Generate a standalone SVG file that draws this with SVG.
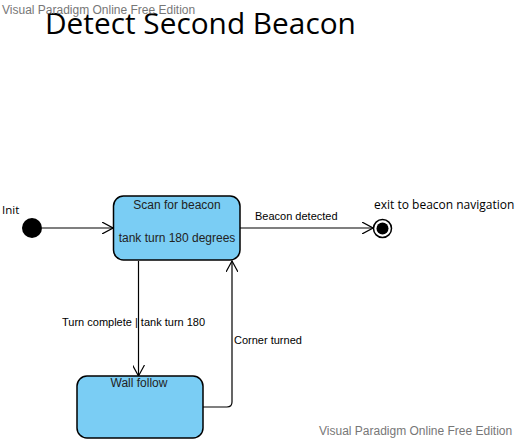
<svg xmlns="http://www.w3.org/2000/svg" width="517" height="440" viewBox="0 0 517 440">
<defs>
<style>
.state{fill:#7acdf4;stroke:#000;stroke-width:1.5}
.lbl{font-family:"Liberation Sans",Arial,sans-serif;font-size:11px;fill:#000}
.st{font-family:"Liberation Sans",Arial,sans-serif;font-size:12px;fill:#222;text-anchor:middle}
.os{font-family:"Open Sans","Noto Sans",sans-serif;fill:#000}
.wm{font-family:"Liberation Sans",Arial,sans-serif;font-size:12px;fill:#777}
.edge{fill:none;stroke:#000;stroke-width:1.2}
</style>
<marker id="open" viewBox="0 0 12 12" refX="11" refY="6" markerWidth="12" markerHeight="12" markerUnits="userSpaceOnUse" orient="auto">
<path d="M0,0 L11,6 L0,12" fill="none" stroke="#000" stroke-width="1.2"/>
</marker>
</defs>
<rect width="517" height="440" fill="#fff"/>
<text class="os" x="45" y="34" font-size="29.8">Detect Second Beacon</text>
<text class="wm" x="2" y="14">Visual Paradigm Online Free Edition</text>
<text class="wm" x="319" y="435">Visual Paradigm Online Free Edition</text>
<g id="connectors">
<path class="edge" d="M42,228 H113" marker-end="url(#open)"/>
<path class="edge" d="M240,228 H373" marker-end="url(#open)"/>
<path class="edge" d="M138.5,261 V376" marker-end="url(#open)"/>
<path class="edge" d="M203,407 H227 Q232,407 232,402 V261" marker-end="url(#open)"/>
<text class="lbl" x="255" y="220">Beacon detected</text>
<text class="lbl" x="62" y="326">Turn complete | tank turn 180</text>
<text class="lbl" x="234" y="344">Corner turned</text>
</g>
<g id="init">
<circle cx="32" cy="228" r="10" fill="#000"/>
<text class="os" x="2" y="214" font-size="11.5" fill="#333">Init</text>
</g>
<g id="scan">
<rect class="state" x="113.5" y="196" width="126.5" height="64" rx="10"/>
<text class="st" x="177" y="209">Scan for beacon</text>
<text class="st" x="177" y="242">tank turn 180 degrees</text>
</g>
<g id="wall">
<rect class="state" x="77" y="376" width="126" height="62" rx="10"/>
<text class="st" x="139" y="387">Wall follow</text>
</g>
<g id="final">
<circle cx="382.5" cy="228.5" r="9" fill="#fff" stroke="#000" stroke-width="1.5"/>
<circle cx="382.5" cy="228.5" r="6" fill="#000"/>
<text class="os" x="374" y="209" font-size="12">exit to beacon navigation</text>
</g>
</svg>
